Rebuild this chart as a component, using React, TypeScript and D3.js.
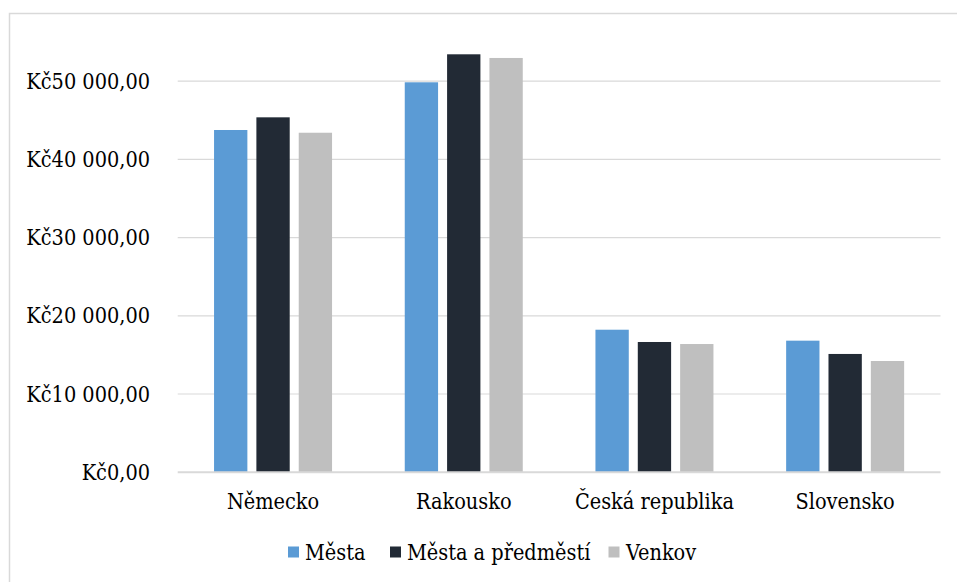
import React from "react";
import * as d3 from "d3";

const categories = ["Německo", "Rakousko", "Česká republika", "Slovensko"];
const seriesNames = ["Města", "Města a předměstí", "Venkov"];
const mesta = [43760, 49860, 18220, 16820];
const mestaPredmesti = [45380, 53440, 16650, 15120];
const venkov = [43410, 52970, 16390, 14220];
const yTicks = [0, 10000, 20000, 30000, 40000, 50000];
const colors = ["#5b9bd5", "#222a35", "#bfbfbf"];

const W = 957;
const H = 582;
const FONT = "'DejaVu Serif Condensed', 'DejaVu Serif', serif";

const fmt = (v: number) => {
  const s = d3.format(",.2f")(v); // 50,000.00
  return "Kč" + s.replace(/,/g, " ").replace(".", ",");
};

const textStyle = { fontFamily: FONT, fontSize: "21.5px", fontStretch: "condensed" as const };

export default function App() {
  const series = [mesta, mestaPredmesti, venkov];
  const x0 = d3.scaleBand<string>().domain(categories).range([177.7, 940.5]).paddingInner(0).paddingOuter(0);
  const groupHalf = 59;
  const x1 = d3
    .scaleBand<number>()
    .domain([0, 1, 2])
    .range([-groupHalf, groupHalf])
    .paddingInner(0.213)
    .paddingOuter(0);
  const y = d3.scaleLinear().domain([0, 50000]).range([472.2, 81.2]);

  const legendItems = [
    { sx: 288, tx: 305 },
    { sx: 390, tx: 407 },
    { sx: 608.5, tx: 626 },
  ];

  return (
    <svg
      width={W}
      height={H}
      style={{ position: "absolute", left: 0, top: 0, background: "#fff", fontFamily: FONT }}
    >
      <rect x={9.5} y={13.5} width={W + 10} height={H + 10} fill="#fff" stroke="#d9d9d9" strokeWidth={1.5} />
      {yTicks.map((t) => (
        <g key={t}>
          {t > 0 && (
            <line x1={x0.range()[0]} x2={x0.range()[1]} y1={y(t)} y2={y(t)} stroke="#d9d9d9" strokeWidth={1.2} />
          )}
          <text x={150} y={y(t)} dy="0.35em" textAnchor="end" style={textStyle} fill="#000">
            {fmt(t)}
          </text>
        </g>
      ))}
      {categories.map((c, i) => {
        const cx = (x0(c) as number) + x0.bandwidth() / 2;
        return (
          <g key={c}>
            {series.map((s, j) => (
              <rect
                key={j}
                x={cx + (x1(j) as number)}
                y={y(s[i])}
                width={x1.bandwidth()}
                height={y(0) - y(s[i])}
                fill={colors[j]}
              />
            ))}
            <text x={cx} y={509} textAnchor="middle" style={textStyle} fill="#000">
              {c}
            </text>
          </g>
        );
      })}
      <line x1={x0.range()[0]} x2={x0.range()[1]} y1={y(0)} y2={y(0)} stroke="#d9d9d9" strokeWidth={2} />
      {seriesNames.map((n, j) => (
        <g key={n}>
          <rect x={legendItems[j].sx} y={546.5} width={11} height={11} fill={colors[j]} />
          <text x={legendItems[j].tx} y={559.5} style={textStyle} fill="#000">
            {n}
          </text>
        </g>
      ))}
    </svg>
  );
}
